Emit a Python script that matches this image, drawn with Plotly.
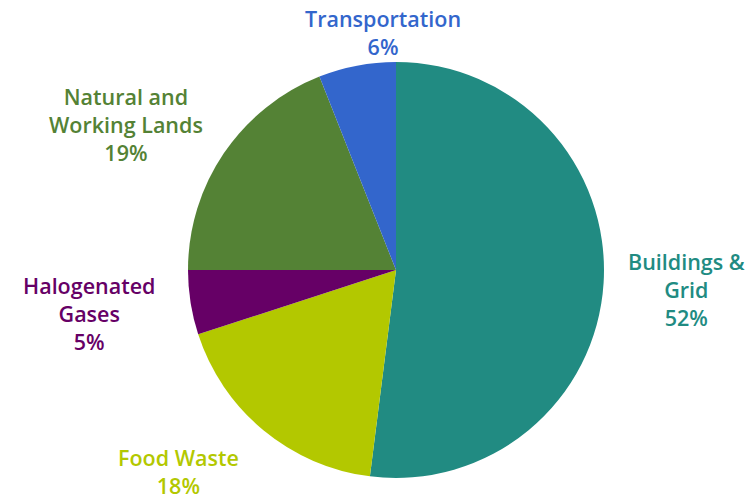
import plotly.graph_objects as go

categories = ["Buildings & Grid", "Food Waste", "Halogenated Gases", "Natural and Working Lands", "Transportation"]
values = [52, 18, 5, 19, 6]
colors = ["#218B82", "#B3C800", "#660066", "#548235", "#3366CC"]
label_texts = ["Buildings &<br>Grid<br>52%", "Food Waste<br>18%", "Halogenated<br>Gases<br>5%",
               "Natural and<br>Working Lands<br>19%", "Transportation<br>6%"]
label_x = [686, 178, 89, 126, 383]
label_y = [289, 471, 313, 124, 32]

fig = go.Figure(go.Pie(
    labels=categories, values=values, sort=False, direction="clockwise", rotation=0,
    marker=dict(colors=colors, line=dict(width=0)), textinfo="none", hoverinfo="label+percent",
    domain=dict(x=[(396-208)/750, (396+208)/750], y=[(230-208)/500, (230+208)/500]),
    showlegend=False,
))
for t, x, y, c in zip(label_texts, label_x, label_y, colors):
    fig.add_annotation(text=t, x=x/750, y=1-y/500, xref="paper", yref="paper",
                       showarrow=False, xanchor="center", yanchor="middle",
                       font=dict(family="Open Sans", size=21.5, color=c, weight=600))
fig.update_layout(width=750, height=500, margin=dict(l=0, r=0, t=0, b=0),
                  paper_bgcolor="white", plot_bgcolor="white")
fig.write_html("out.html", config={"displayModeBar": False})

with open("out.html", "r", encoding="utf-8") as f:
    html = f.read()
html = html.replace("<head>", "<head><style>html,body{margin:0;padding:0;}</style>", 1)
with open("out.html", "w", encoding="utf-8") as f:
    f.write(html)
